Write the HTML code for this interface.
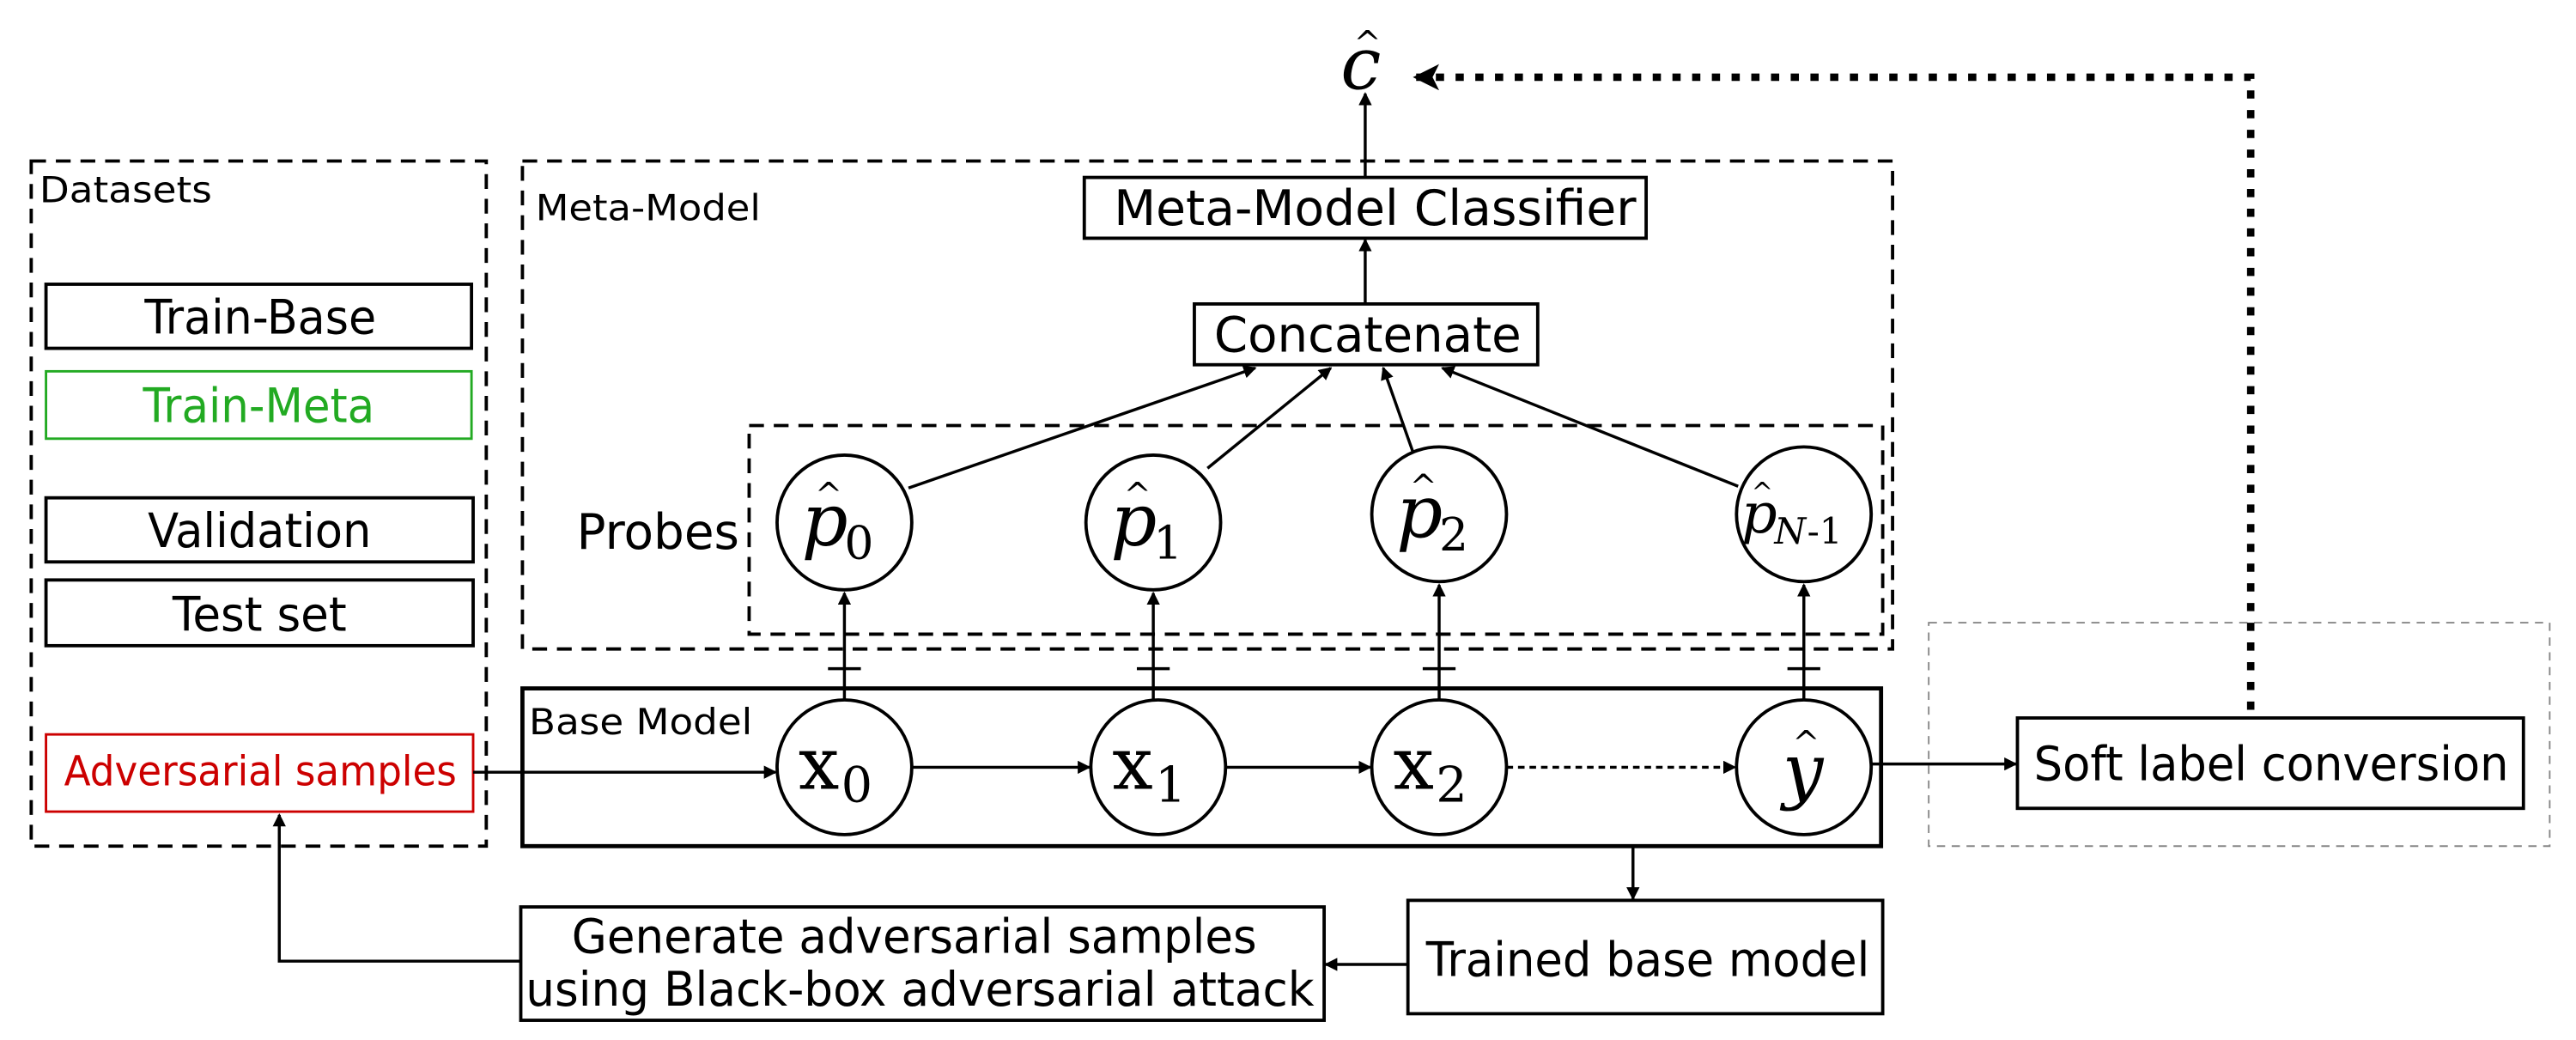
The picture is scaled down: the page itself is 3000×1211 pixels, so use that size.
<!DOCTYPE html>
<html><head><meta charset="utf-8"><style>
html,body{margin:0;padding:0;background:#fff;}
svg{display:block;}
.t{font-family:"DejaVu Sans","Liberation Sans",sans-serif;}
.m{font-family:"DejaVu Serif","Liberation Serif",serif;}
</style></head><body>
<svg width="3000" height="1211" viewBox="0 0 1568 633" preserveAspectRatio="none" xmlns="http://www.w3.org/2000/svg">
<defs>
<marker id="a" markerWidth="8" markerHeight="8" refX="7" refY="4" orient="auto" markerUnits="userSpaceOnUse"><path d="M0,0 L8,4 L0,8 z" fill="#000"/></marker>
<marker id="b" markerWidth="18" markerHeight="16" refX="14" refY="8" orient="auto" markerUnits="userSpaceOnUse"><path d="M0,0 L16,8 L0,16 L4,8 z" fill="#000"/></marker>
</defs>
<g fill="none" stroke="#000">
<rect x="19" y="98" width="277" height="417" stroke-width="2" stroke-dasharray="9,6"/>
<rect x="28" y="173" width="259" height="39" stroke-width="2"/>
<rect x="28" y="226" width="259" height="41" stroke="#22aa22" stroke-width="1.5"/>
<rect x="28" y="303" width="260" height="39" stroke-width="2"/>
<rect x="28" y="353" width="260" height="40" stroke-width="2"/>
<rect x="28" y="447" width="260" height="47" stroke="#cc0000" stroke-width="1.5"/>
<rect x="318" y="98" width="834" height="297" stroke-width="2" stroke-dasharray="9,6"/>
<rect x="660" y="108" width="342" height="37" stroke-width="2"/>
<rect x="727" y="185" width="209" height="37" stroke-width="2"/>
<rect x="456" y="259" width="690" height="127" stroke-width="2" stroke-dasharray="9,6"/>
<rect x="318" y="419" width="827" height="96" stroke-width="2.5"/>
<rect x="1174" y="379" width="378" height="136" stroke="#888" stroke-width="1" stroke-dasharray="5,4"/>
<rect x="1228" y="437" width="308" height="55" stroke-width="2"/>
<rect x="857" y="548" width="289" height="69" stroke-width="2"/>
<rect x="317" y="552" width="489" height="69" stroke-width="2"/>
<g stroke-width="2">
<circle cx="514" cy="318" r="41"/><circle cx="702" cy="318" r="41"/><circle cx="876" cy="313" r="41"/><circle cx="1098" cy="313" r="41"/>
<circle cx="514" cy="467" r="41"/><circle cx="705" cy="467" r="41"/><circle cx="876" cy="467" r="41"/><circle cx="1098" cy="467" r="41"/>
</g>
<g stroke-width="1.8">
<line x1="514" y1="426" x2="514" y2="361" marker-end="url(#a)"/><line x1="504" y1="407" x2="524" y2="407"/>
<line x1="702" y1="426" x2="702" y2="361" marker-end="url(#a)"/><line x1="692" y1="407" x2="712" y2="407"/>
<line x1="876" y1="426" x2="876" y2="356" marker-end="url(#a)"/><line x1="866" y1="407" x2="886" y2="407"/>
<line x1="1098" y1="426" x2="1098" y2="356" marker-end="url(#a)"/><line x1="1088" y1="407" x2="1108" y2="407"/>
<line x1="553" y1="297" x2="764" y2="224" marker-end="url(#a)"/>
<line x1="735" y1="285" x2="810" y2="224" marker-end="url(#a)"/>
<line x1="860" y1="275" x2="842" y2="224" marker-end="url(#a)"/>
<line x1="1058" y1="296" x2="878" y2="224" marker-end="url(#a)"/>
<line x1="831" y1="185" x2="831" y2="146" marker-end="url(#a)"/>
<line x1="831" y1="108" x2="831" y2="57" marker-end="url(#a)"/>
<line x1="288" y1="470" x2="472" y2="470" marker-end="url(#a)"/>
<line x1="555" y1="467" x2="663" y2="467" marker-end="url(#a)"/>
<line x1="746" y1="467" x2="834" y2="467" marker-end="url(#a)"/>
<line x1="917" y1="467" x2="1056" y2="467" stroke-dasharray="4,3" marker-end="url(#a)"/>
<line x1="1139" y1="465" x2="1227" y2="465" marker-end="url(#a)"/>
<line x1="994" y1="515" x2="994" y2="547" marker-end="url(#a)"/>
<line x1="857" y1="587" x2="807" y2="587" marker-end="url(#a)"/>
<polyline points="317,585 170,585 170,496" marker-end="url(#a)"/>
</g>
<polyline points="1370,432 1370,47 862,47" stroke-width="4.5" stroke-dasharray="5,7" marker-end="url(#b)"/>
</g>
<g class="t" fill="#000" lengthAdjust="spacingAndGlyphs">
<text x="24" y="123" font-size="22" textLength="105" lengthAdjust="spacingAndGlyphs">Datasets</text>
<text x="326" y="134" font-size="22" textLength="137" lengthAdjust="spacingAndGlyphs">Meta-Model</text>
<text x="322" y="447" font-size="22" textLength="136" lengthAdjust="spacingAndGlyphs">Base Model</text>
<text x="88" y="203" font-size="29" textLength="141" lengthAdjust="spacingAndGlyphs">Train-Base</text>
<text x="87" y="257" font-size="29" textLength="141" lengthAdjust="spacingAndGlyphs" fill="#22aa22">Train-Meta</text>
<text x="90" y="333" font-size="29" textLength="136" lengthAdjust="spacingAndGlyphs">Validation</text>
<text x="105" y="384" font-size="29" textLength="106" lengthAdjust="spacingAndGlyphs">Test set</text>
<text x="39" y="478" font-size="25" textLength="239" lengthAdjust="spacingAndGlyphs" fill="#cc0000">Adversarial samples</text>
<text x="678" y="137" font-size="30" textLength="318" lengthAdjust="spacingAndGlyphs">Meta-Model Classifier</text>
<text x="739" y="214" font-size="30" textLength="187" lengthAdjust="spacingAndGlyphs">Concatenate</text>
<text x="351" y="334" font-size="30" textLength="99" lengthAdjust="spacingAndGlyphs">Probes</text>
<text x="1238" y="475" font-size="29" textLength="289" lengthAdjust="spacingAndGlyphs">Soft label conversion</text>
<text x="868" y="594" font-size="29" textLength="270" lengthAdjust="spacingAndGlyphs">Trained base model</text>
<text x="348" y="580" font-size="29" textLength="417" lengthAdjust="spacingAndGlyphs">Generate adversarial samples</text>
<text x="320" y="612" font-size="29" textLength="480" lengthAdjust="spacingAndGlyphs">using Black-box adversarial attack</text>
</g>
<g class="m" fill="#000">
<text x="816" y="54" font-size="44" font-style="italic">c</text><text x="824" y="33" font-size="20">^</text>
<text x="488" y="332" font-size="44" font-style="italic">p</text><text x="514" y="340" font-size="28">0</text><text x="496" y="308" font-size="20">^</text>
<text x="676" y="332" font-size="44" font-style="italic">p</text><text x="702" y="340" font-size="28">1</text><text x="684" y="308" font-size="20">^</text>
<text x="850" y="327" font-size="44" font-style="italic">p</text><text x="876" y="335" font-size="28">2</text><text x="858" y="303" font-size="20">^</text>
<text x="1060" y="324" font-size="34" font-style="italic">p</text><text x="1080" y="331" font-size="22" font-style="italic">N</text><text x="1100" y="331" font-size="22">-1</text><text x="1066" y="305" font-size="16">^</text>
<text x="486" y="480" font-size="44">x</text><text x="512" y="488" font-size="30">0</text>
<text x="677" y="480" font-size="44">x</text><text x="703" y="488" font-size="30">1</text>
<text x="848" y="480" font-size="44">x</text><text x="874" y="488" font-size="30">2</text>
<text x="1085" y="484" font-size="44" font-style="italic">y</text><text x="1091" y="459" font-size="20">^</text>
</g>
</svg>
</body></html>
